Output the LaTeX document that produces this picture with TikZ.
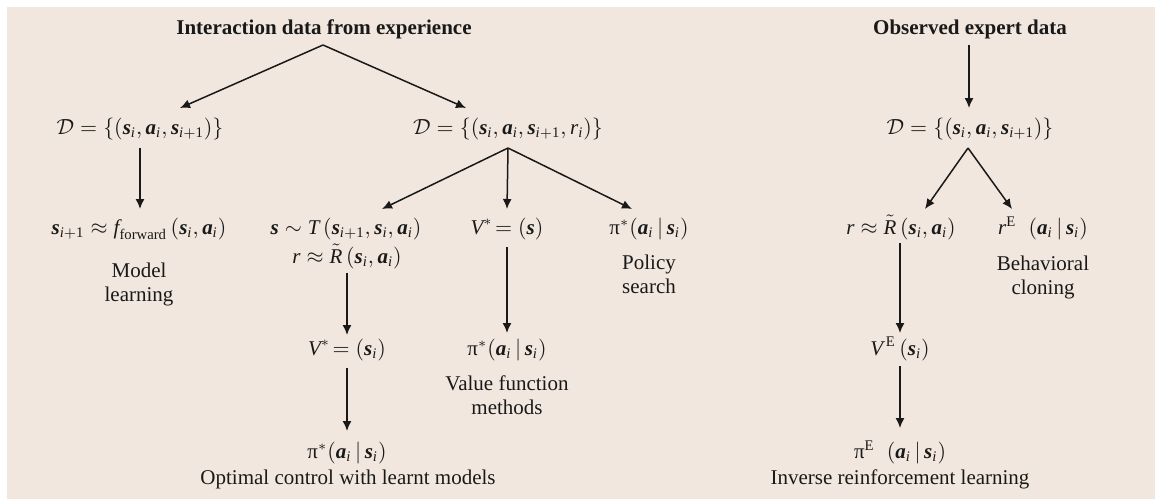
\documentclass[tikz,border=0pt]{standalone}
\usepackage{amsmath}
\usepackage{fontspec}
\setmainfont{Liberation Serif}
\usetikzlibrary{arrows.meta,calc}
\definecolor{bgbeige}{RGB}{241,231,222}
\definecolor{ink}{RGB}{25,25,25}
\newcommand{\bs}{\textbf{\textit{s}}}
\newcommand{\ba}{\textbf{\textit{a}}}
\newcommand{\ii}{\textit{i}}
\newcommand{\ip}{\ii{+}\text{1}}
\begin{document}
\begin{tikzpicture}[x=0.5pt,y=-0.5pt,
  every node/.style={inner sep=0pt,anchor=base,text=ink,font=\fontsize{10.5}{12}\selectfont},
  ttl/.style={font=\fontsize{10.5}{12}\selectfont\bfseries},
  lbl/.style={align=center},
  arr/.style={draw=ink,line width=0.75pt,-{Latex[length=5pt,width=4.5pt]}}]
\useasboundingbox (0,0) rectangle (1155,499);
\fill[bgbeige] (7,7) rectangle (1155,499);
% titles
\node[ttl] (t1) at (324,34) {Interaction data from experience};
\node[ttl] (t2) at (970,34) {Observed expert data};
% data sets
\node (d1) at (140,134) {$\mathcal{D} = \{(\bs_{\ii}, \ba_{\ii}, \bs_{\ip})\}$};
\node (d2) at (508,134) {$\mathcal{D} = \{(\bs_{\ii}, \ba_{\ii}, \bs_{\ip}, \textit{r}_{\ii})\}$};
\node (d3) at (970,134) {$\mathcal{D} = \{(\bs_{\ii}, \ba_{\ii}, \bs_{\ip})\}$};
% model learning
\node (fw) at (139,234) {$\bs_{\ip} \approx \textit{f}_{\text{forward}}\,(\bs_{\ii}, \ba_{\ii})$};
\node[lbl] (ml) at (139,301) {Model\\learning};
% optimal control
\node (tt) at (346,234) {$\bs \sim \textit{T}\,(\bs_{\ip}, \bs_{\ii}, \ba_{\ii})$};
\node (rr) at (347,263) {$\textit{r} \approx \tilde{\textit{R}}\,(\bs_{\ii}, \ba_{\ii})$};
\node (vi) at (347,355) {$\textit{V}^{*}\!= (\bs_{\ii})$};
\node (po) at (347,458) {$\text{π}^{*}(\ba_{\ii}\,|\,\bs_{\ii})$};
\node (oc) at (348,484) {Optimal control with learnt models};
% value function
\node (vs) at (507,234) {$\textit{V}^{*}\!= (\bs)$};
\node (pv) at (507,355) {$\text{π}^{*}(\ba_{\ii}\,|\,\bs_{\ii})$};
\node[lbl] (vf) at (507,414) {Value function\\methods};
% policy search
\node (pp) at (649,234) {$\text{π}^{*}(\ba_{\ii}\,|\,\bs_{\ii})$};
\node[lbl] (ps) at (649,293) {Policy\\search};
% expert side
\node (re) at (901,234) {$\textit{r} \approx \tilde{\textit{R}}\,(\bs_{\ii}, \ba_{\ii})$};
\node (rb) at (1043,234) {$\textit{r}^{\text{E}}\;\;(\ba_{\ii}\,|\,\bs_{\ii})$};
\node[lbl] (bc) at (1043,294) {Behavioral\\cloning};
\node (ve) at (900,355) {$\textit{V}^{\,\text{E}}\,(\bs_{\ii})$};
\node (pe) at (900,458) {$\text{π}^{\text{E}}\;\;(\ba_{\ii}\,|\,\bs_{\ii})$};
\node (ir) at (900,484) {Inverse reinforcement learning};
% connectors
\draw[arr] ($(t1.base)+(-1,11)$) -- ($(d1.base)+(40,-26)$);
\draw[arr] ($(t1.base)+(-1,11)$) -- ($(d2.base)+(-42,-26)$);
\draw[arr] ($(t2.base)+(-1,11)$) -- ($(d3.base)+(-1,-26)$);
\draw[arr] ($(d1.base)+(0,14)$) -- ($(fw.base)+(1,-25)$);
\draw[arr] ($(d2.base)+(0,14)$) -- ($(tt.base)+(36,-25)$);
\draw[arr] ($(d2.base)+(0,14)$) -- ($(vs.base)+(0,-25)$);
\draw[arr] ($(d2.base)+(0,14)$) -- ($(pp.base)+(-17,-25)$);
\draw[arr] ($(rr.base)+(0,10)$) -- ($(vi.base)+(0,-20)$);
\draw[arr] ($(vi.base)+(0,13)$) -- ($(po.base)+(0,-27)$);
\draw[arr] ($(vs.base)+(0,13)$) -- ($(pv.base)+(0,-22)$);
\draw[arr] ($(d3.base)+(-2,14)$) -- ($(re.base)+(24,-25)$);
\draw[arr] ($(d3.base)+(-2,14)$) -- ($(rb.base)+(-31,-25)$);
\draw[arr] ($(re.base)+(-1,9)$) -- ($(ve.base)+(0,-22)$);
\draw[arr] ($(ve.base)+(0,11)$) -- ($(pe.base)+(0,-30)$);
\end{tikzpicture}
\end{document}
